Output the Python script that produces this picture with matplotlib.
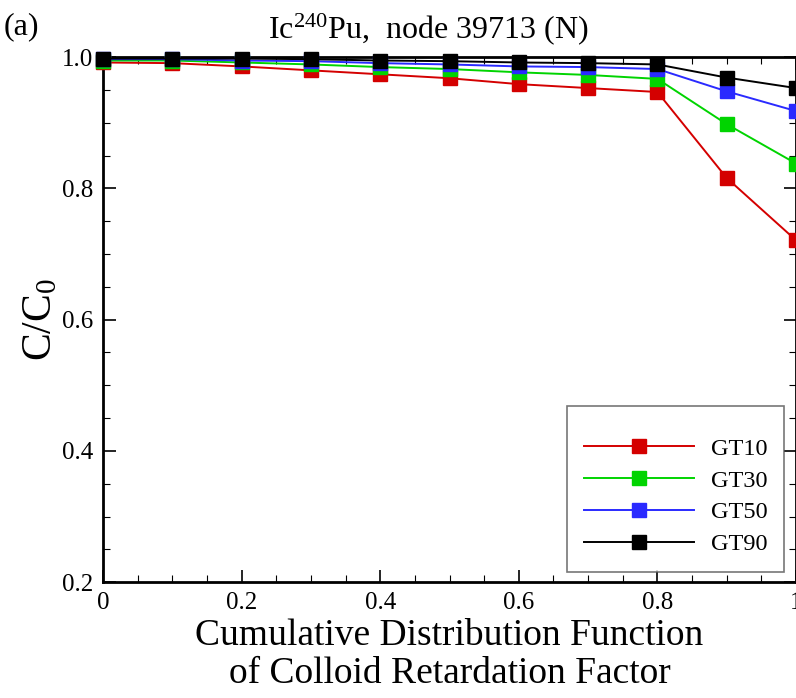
import numpy as np
from matplotlib import pyplot as plt
from matplotlib.ticker import MultipleLocator

plt.rcParams['font.family'] = ['Liberation Serif', 'DejaVu Serif']
plt.rcParams['mathtext.fontset'] = 'custom'
plt.rcParams['mathtext.rm'] = 'Liberation Serif'
plt.rcParams['mathtext.it'] = 'Liberation Serif:italic'

cdf = [0.0, 0.1, 0.2, 0.3, 0.4, 0.5, 0.6, 0.7, 0.8, 0.9, 1.0]
gt10 = [0.992, 0.991, 0.986, 0.980, 0.974, 0.968, 0.959, 0.953, 0.947, 0.816, 0.721]
gt30 = [0.995, 0.995, 0.992, 0.989, 0.985, 0.982, 0.977, 0.973, 0.967, 0.898, 0.838]
gt50 = [0.997, 0.997, 0.995, 0.994, 0.991, 0.989, 0.986, 0.985, 0.982, 0.948, 0.918]
gt90 = [0.998, 0.998, 0.998, 0.997, 0.995, 0.994, 0.992, 0.991, 0.989, 0.969, 0.953]

series = [('GT10', gt10, '#d40000'),
          ('GT30', gt30, '#00d400'),
          ('GT50', gt50, '#2a2aff'),
          ('GT90', gt90, '#000000')]

fig = plt.figure(figsize=(7.96, 6.98), dpi=100)
ax = fig.add_axes([0.1294, 0.166, 0.8706, 0.752])

for name, vals, col in series:
    ax.plot(cdf, vals, color=col, lw=1.4, marker='s', markersize=10,
            markeredgecolor=col, label=name, clip_on=False, zorder=3)

ax.set_xlim(0, 1)
ax.set_ylim(0.2, 1.0)
ax.xaxis.set_minor_locator(MultipleLocator(0.05))
ax.yaxis.set_minor_locator(MultipleLocator(0.05))
ax.set_xticks([0, 0.2, 0.4, 0.6, 0.8, 1.0])
ax.set_xticklabels(['0', '0.2', '0.4', '0.6', '0.8', '1'])
ax.set_yticks([0.2, 0.4, 0.6, 0.8, 1.0])
ax.set_yticklabels(['0.2', '0.4', '0.6', '0.8', '1.0'])
ax.tick_params(which='both', direction='in', top=True, right=True, labelsize=18, pad=7)
ax.tick_params(which='major', length=9, width=1.2)
ax.tick_params(which='minor', length=5, width=0.8)
for s in ax.spines.values():
    s.set_linewidth(2)

ax.set_xlabel('Cumulative Distribution Function\nof Colloid Retardation Factor',
              fontsize=27, linespacing=1.15, labelpad=3)
ax.set_ylabel('C/C$_0$', fontsize=30, labelpad=1)
ax.set_title('Ic$^{240}$Pu,  node 39713 (N)', fontsize=23, pad=14, x=0.47)
fig.text(0.004, 0.951, '(a)', fontsize=23, va='baseline')

# legend with a little extra room on top, as in the original
leg = ax.legend(loc='lower right', bbox_to_anchor=(0.983, 0.019), fontsize=17.5,
                fancybox=False, edgecolor='#555555', handlelength=4.5,
                labelspacing=0.4, borderpad=0.7, handletextpad=0.7,
                borderaxespad=0, title=' ', title_fontsize=5)
leg.get_frame().set_linewidth(1.2)

fig.savefig('out.png', dpi=100)
